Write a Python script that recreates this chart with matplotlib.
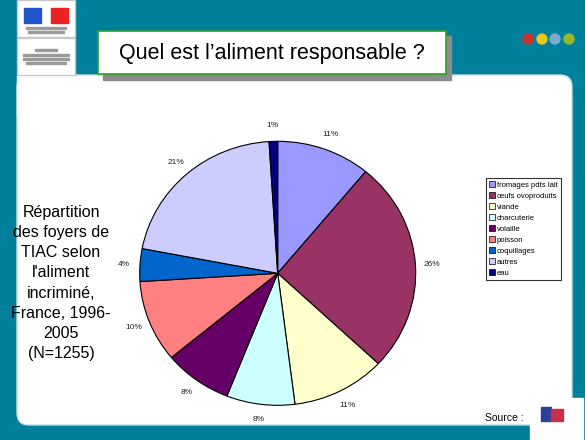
"""
Slide: distribution of TIAC outbreaks by incriminated food (pie chart).
"""

import matplotlib
matplotlib.use("Agg")
from matplotlib import pyplot as plt
from matplotlib.patches import Rectangle, FancyBboxPatch, Circle

# ------------------- Chart data ----------------------

CATEGORIES = [
    "fromages pdts lait",
    "œufs ovoproduits",
    "viande",
    "charcuterie",
    "volaille",
    "poisson",
    "coquillages",
    "autres",
    "eau",
]
SHARES = [11, 26, 11, 8, 8, 10, 4, 21, 1]  # percent of outbreaks
COLORS = [
    "#9999FF", "#993366", "#FFFFCC", "#CCFFFF", "#660066",
    "#FF8080", "#0066CC", "#CCCCFF", "#000080",
]
TITLE = "Quel est l\u2019aliment responsable ?"
SIDE_TEXT = "Répartition\ndes foyers de\nTIAC selon\nl'aliment\nincriminé,\nFrance, 1996-\n2005\n(N=1255)"
SOURCE = "Source :"

# ------------------- Layout ----------------------

W, H = 585, 440
TEAL = "#00809a"
plt.rcParams["font.family"] = ["Liberation Sans", "DejaVu Sans"]

fig = plt.figure(figsize=(W / 100, H / 100), dpi=100)

# Slide background drawn in pixel coordinates
bg = fig.add_axes([0, 0, 1, 1])
bg.set_xlim(0, W)
bg.set_ylim(H, 0)
bg.axis("off")

bg.add_patch(Rectangle((0, 0), W, H, color=TEAL, zorder=0))
bg.add_patch(FancyBboxPatch((27, 85), 535, 330, boxstyle="round,pad=10,rounding_size=12",
                            facecolor="white", edgecolor="#bfe0e6", lw=1, zorder=1))
bg.add_patch(Rectangle((17, 75), 30, 40, color="white", zorder=1))

# Logos at top left
bg.add_patch(Rectangle((17, 0), 58, 37, facecolor="white", edgecolor="#c8c8c8", lw=1, zorder=2))
bg.add_patch(Rectangle((17, 38), 58, 37, facecolor="white", edgecolor="#c8c8c8", lw=1, zorder=2))
bg.add_patch(Rectangle((24, 8), 17, 15, color="#2255cc", zorder=3))
bg.add_patch(Rectangle((51, 8), 17, 15, color="#ee2222", zorder=3))
for y, w in [(27, 40), (31, 36), (49, 22), (54, 46), (58, 46), (62, 40)]:
    bg.add_patch(Rectangle((46 - w / 2, y), w, 2, color="#9a9a9a", zorder=3))

# Title box with shadow
bg.add_patch(Rectangle((103, 36), 348, 44, color="#8c8c8c", zorder=3))
bg.add_patch(Rectangle((98, 31), 348, 43, facecolor="white", edgecolor="#2e9e2e", lw=1.2, zorder=4))
bg.text(272, 53, TITLE, fontsize=15.5, ha="center", va="center", zorder=5)

# Coloured dots
for x, c in zip([528, 542, 555, 569], ["#c8302a", "#e8c81a", "#78aed0", "#98b82a"]):
    bg.add_patch(Circle((x, 39), 5, color=c, zorder=3))

# Side caption and source
bg.text(61, 283, SIDE_TEXT, fontsize=11.5, ha="center", va="center", linespacing=1.42, zorder=5)
bg.text(485, 418, SOURCE, fontsize=7.5, ha="left", va="center", zorder=5)
bg.add_patch(Rectangle((530, 398), 53, 42, color="white", zorder=5))
bg.add_patch(Rectangle((541, 407), 10, 14, color="#2a3f9a", zorder=6))
bg.add_patch(Rectangle((551, 409), 12, 12, color="#c8304a", zorder=6))

# Pie axes, sized so the (slightly wide) ellipse matches the slide
cx, cy, rx, ry, lim = 277.7, 273.3, 138, 132, 1.25
ax = fig.add_axes([(cx - lim * rx) / W, 1 - (cy + lim * ry) / H, 2 * lim * rx / W, 2 * lim * ry / H])
wedges, texts, autotexts = ax.pie(
    SHARES,
    colors=COLORS,
    startangle=90,
    counterclock=False,
    autopct="%.0f%%",
    pctdistance=1.12,
    wedgeprops={"edgecolor": "black", "linewidth": 0.8},
    textprops={"fontsize": 6, "color": "#222222"},
)
ax.set_aspect("auto")
ax.set_xlim(-lim, lim)
ax.set_ylim(-lim, lim)
ax.axis("off")

leg = ax.legend(
    wedges,
    CATEGORIES,
    loc="upper left",
    bbox_to_anchor=(485.5 / W, 1 - 178 / H),
    bbox_transform=fig.transFigure,
    fontsize=5.5,
    frameon=True,
    fancybox=False,
    edgecolor="black",
    borderpad=0.4,
    labelspacing=0.45,
    handlelength=0.8,
    handleheight=0.8,
    handletextpad=0.3,
    borderaxespad=0,
)
leg.get_frame().set_linewidth(0.8)
for h in leg.legend_handles:
    h.set_linewidth(0.5)

fig.savefig("out.png", dpi=100)
